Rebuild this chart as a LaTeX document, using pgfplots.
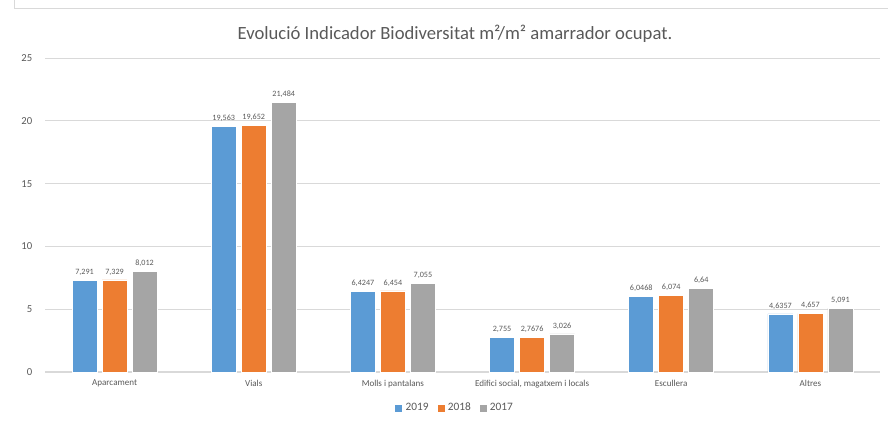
\documentclass[border=0pt]{standalone}
\usepackage{fontspec}
\setmainfont{Carlito}
\usepackage{pgfplots}
\usepackage{pgfplotstable}
\pgfplotsset{compat=1.18}

\definecolor{c19}{HTML}{5B9BD5}
\definecolor{c18}{HTML}{ED7D31}
\definecolor{c17}{HTML}{A5A5A5}
\definecolor{txt}{HTML}{595959}
\definecolor{grd}{HTML}{D9D9D9}

% values as shown in the data labels
\pgfplotstableread{
x  y19    l19     y18    l18     y17    l17
0  7.291  7,291   7.329  7,329   8.012  8,012
1  19.563 19,563  19.652 19,652  21.484 21,484
2  6.4247 6,4247  6.454  6,454   7.055  7,055
3  2.755  2,755   2.7676 2,7676  3.026  3,026
4  6.0468 6,0468  6.074  6,074   6.64   6,64
5  4.6357 4,6357  4.657  4,657   5.091  5,091
}\data

\begin{document}
\begin{tikzpicture}[x=0.75pt,y=0.75pt]
\useasboundingbox (0,0) rectangle (888,422);
\draw[grd] (14,422) -- (14,414) -- (888,414);
\begin{axis}[
    at={(33.75pt,37.5pt)}, anchor=south west,
    scale only axis,
    width=626.25pt, height=235.5pt,
    ymin=0, ymax=25,
    xmin=-0.5, xmax=5.5,
    ytick={0,5,...,25},
    xtick=data,
    xticklabels={Aparcament, Vials, Molls i pantalans, {Edifici social, magatxem i locals}, Escullera, Altres},
    ybar=3.75pt, bar width=18.75pt,
    axis x line*=bottom, axis y line*=left,
    x axis line style={grd, line width=0.8pt, -},
    y axis line style={draw=none},
    major tick length=0pt,
    ymajorgrids, grid style={grd, line width=0.6pt},
    ytick style={draw=none}, xtick style={draw=none},
    yticklabel style={font=\fontsize{8}{9}\selectfont, text=txt, xshift=-6pt},
    xticklabel style={font=\fontsize{6.8}{8}\selectfont, text=txt, yshift=-2.5pt},
    /pgf/number format/assume math mode=true,
    yticklabel={\pgfmathprintnumber{\tick}},
    title={Evolució Indicador Biodiversitat m²/m² amarrador ocupat.},
    title style={font=\fontsize{14}{16}\selectfont, text=txt, at={(0.491,1)}, anchor=center, yshift=12pt},
    nodes near coords,
    point meta=explicit symbolic,
    every node near coord/.append style={font=\fontsize{6.1}{7}\selectfont, text=txt, yshift=0pt},
    legend style={at={(0.491,-0.115)}, anchor=center, draw=none, legend columns=-1,
        font=\fontsize{8.5}{10}\selectfont, text=txt,
        /tikz/every even column/.append style={column sep=4pt}},
    legend image code/.code={\fill[#1] (0pt,-3pt) rectangle (6pt,3pt);},
]
\addplot[fill=c19, draw=white, line width=0.4pt] table[x=x, y=y19, meta=l19] {\data};
\addplot[fill=c18, draw=white, line width=0.4pt] table[x=x, y=y18, meta=l18] {\data};
\addplot[fill=c17, draw=white, line width=0.4pt] table[x=x, y=y17, meta=l17] {\data};
\legend{2019, 2018, 2017}
\end{axis}
\end{tikzpicture}
\end{document}
